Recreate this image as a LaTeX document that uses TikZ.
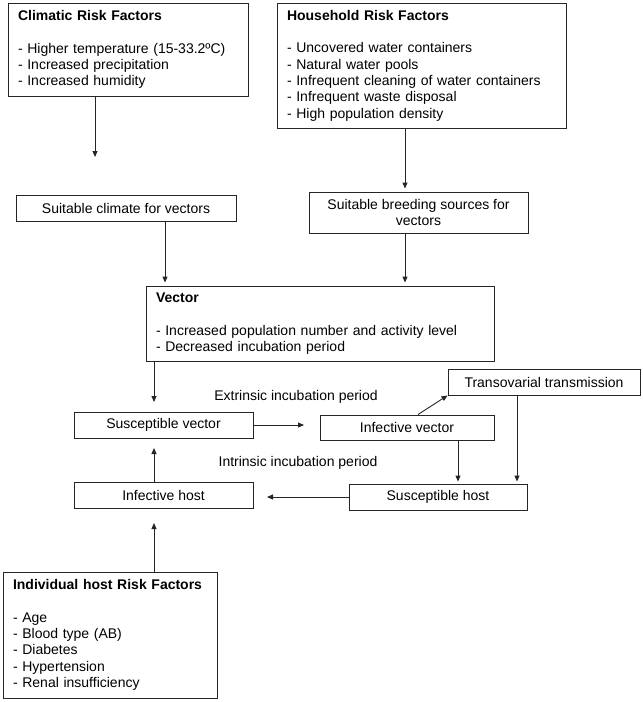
\documentclass[tikz,border=0pt]{standalone}
\usepackage{fontspec}
\setmainfont{Liberation Sans}
\usetikzlibrary{arrows.meta}
\begin{document}
\begin{tikzpicture}[x=1pt,y=-1pt,
  every node/.style={font=\fontsize{14}{16.3}\selectfont},
  box/.style={draw=black!85,line width=0.9pt,inner sep=0pt,align=center},
  lbox/.style={box,align=left,inner xsep=10pt},
  arr/.style={draw=black!85,line width=0.9pt,-{Triangle[length=6pt,width=5pt]}},
  lab/.style={inner sep=0pt}]
\useasboundingbox (0,0) rectangle (643,702);
% boxes
\node[lbox,text width=220pt,minimum height=93pt] (clim) at (128,49.5)
  {\textbf{Climatic Risk Factors}\\[16.3pt]- Higher temperature (15-33.2ºC)\\- Increased precipitation\\- Increased humidity};
\node[lbox,text width=269pt,minimum height=125pt] (house) at (421.5,65.5)
  {\textbf{Household Risk Factors}\\[16.3pt]- Uncovered water containers\\- Natural water pools\\- Infrequent cleaning of water containers\\- Infrequent waste disposal\\- High population density};
\node[box,minimum width=220pt,minimum height=26pt] (sclim) at (126,208) {Suitable climate for vectors};
\node[box,minimum width=219pt,minimum height=41pt] (sbreed) at (418.5,212.5) {Suitable breeding sources for\\vectors};
\node[lbox,text width=328pt,minimum height=75pt] (vector) at (320,323.5)
  {\textbf{Vector}\\[16.3pt]- Increased population number and activity level\\- Decreased incubation period};
\node[box,minimum width=179pt,minimum height=26pt] (svec) at (163.5,425) {Susceptible vector};
\node[box,minimum width=174pt,minimum height=25pt] (ivec) at (407,427.5) {Infective vector};
\node[box,minimum width=192pt,minimum height=26pt] (trans) at (544,382) {Transovarial transmission};
\node[box,minimum width=179pt,minimum height=26pt] (ihost) at (163.5,495) {Infective host};
\node[box,minimum width=178pt,minimum height=26pt] (shost) at (438,497) {Susceptible host};
\node[lbox,text width=194pt,minimum height=126pt] (indiv) at (110,635)
  {\textbf{Individual host Risk Factors}\\[16.3pt]- Age\\- Blood type (AB)\\- Diabetes\\- Hypertension\\- Renal insufficiency};
% labels
\node[lab] (ext) at (296,397) {Extrinsic incubation period};
\node[lab] (int) at (298,463) {Intrinsic incubation period};
% free ends
\coordinate (e1) at (95,157);
\coordinate (e2) at (154,402);
\coordinate (e3) at (304,425);
\coordinate (e4) at (267,497);
\coordinate (e5) at (154,448);
\coordinate (e6) at (154,523);
% connectors
\draw[arr] (clim.south -| e1) -- (e1);
\draw[arr,shorten >=3pt] (house.south -| 405,0) -- (sbreed.north -| 405,0);
\draw[arr,shorten >=3pt] (sclim.south -| 165,0) -- (vector.north -| 165,0);
\draw[arr,shorten >=3pt] (sbreed.south -| 405,0) -- (vector.north -| 405,0);
\draw[arr] (vector.south -| e2) -- (e2);
\draw[arr] (svec.east) -- (e3);
\draw[arr] (ivec.north -| 418,0) -- (trans.south west);
\draw[arr,shorten >=2pt] (ivec.south -| 458,0) -- (shost.north -| 458,0);
\draw[arr,shorten >=2pt] (trans.south -| 517,0) -- (shost.north -| 517,0);
\draw[arr] (shost.west) -- (e4);
\draw[arr] (ihost.north -| e5) -- (e5);
\draw[arr] (indiv.north -| e6) -- (e6);
\end{tikzpicture}
\end{document}
